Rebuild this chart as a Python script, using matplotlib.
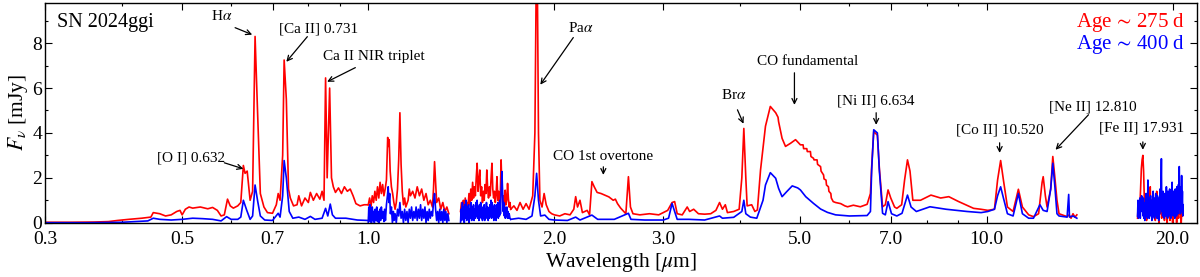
import numpy as np
import matplotlib
matplotlib.use('Agg')
import matplotlib.pyplot as plt

plt.rcParams['font.family'] = ['Liberation Serif', 'DejaVu Serif']
plt.rcParams['mathtext.fontset'] = 'stix'

# ── spectra (wavelength in micron, flux in mJy) ──────────────────────────────

# red: age ~ 275 d
red_opt_wl = [0.300, 0.33, 0.36, 0.38, 0.393, 0.41, 0.43, 0.445, 0.449, 0.46, 0.47, 0.48,
              0.49, 0.496, 0.50, 0.506, 0.513, 0.52, 0.535, 0.55, 0.56, 0.57, 0.578, 0.585,
              0.592, 0.598, 0.605, 0.615, 0.622, 0.628, 0.632, 0.637, 0.644, 0.650, 0.656,
              0.662, 0.669, 0.678, 0.687, 0.700, 0.71, 0.715, 0.72, 0.727, 0.731, 0.737,
              0.743, 0.748, 0.757, 0.767, 0.772, 0.780, 0.790, 0.800, 0.806, 0.815, 0.825,
              0.835, 0.842, 0.848, 0.853, 0.858, 0.866, 0.872, 0.878, 0.885, 0.895, 0.905,
              0.915, 0.925, 0.935, 0.945, 0.955, 0.97, 0.985, 1.0]
red_opt_fx = [0.02, 0.02, 0.03, 0.05, 0.10, 0.15, 0.2, 0.25, 0.45, 0.40, 0.30, 0.35,
              0.5, 0.55, 0.35, 0.6, 0.70, 0.65, 0.70, 0.62, 0.68, 0.55, 0.30, 0.35,
              1.05, 0.75, 0.65, 0.75, 0.9, 2.55, 2.2, 2.3, 1.0, 1.4, 8.3,
              5.0, 1.3, 0.7, 0.45, 0.42, 0.8, 1.3, 1.0, 3.0, 7.25, 5.5,
              1.5, 1.1, 0.75, 0.8, 1.2, 0.75, 1.1, 0.9, 1.35, 1.0, 1.3,
              1.05, 1.4, 1.0, 6.45, 2.0, 6.0, 2.0, 1.6, 1.35, 1.55, 1.3,
              1.6, 1.4, 1.5, 1.2, 0.85, 0.75, 0.8, 0.8]

red_j_wl = [1.00, 1.005, 1.01, 1.015, 1.02, 1.025, 1.03, 1.035, 1.04, 1.045, 1.05, 1.055,
            1.06, 1.065, 1.07, 1.075, 1.078, 1.081, 1.085, 1.09, 1.095, 1.10, 1.105, 1.11,
            1.115, 1.12, 1.125, 1.13, 1.135, 1.14, 1.145, 1.15, 1.16, 1.165, 1.17, 1.18,
            1.19, 1.20, 1.21, 1.22, 1.23, 1.24, 1.25, 1.26, 1.27, 1.275, 1.28, 1.285,
            1.29, 1.30, 1.31, 1.32, 1.33, 1.34, 1.35]
red_j_fx = [0.8, 1.1, 0.7, 1.2, 0.9, 1.4, 1.0, 1.6, 1.1, 1.8, 1.3, 1.7,
            1.2, 1.5, 1.9, 3.8, 3.4, 3.7, 2.3, 1.6, 1.3, 0.9, 0.6, 0.9,
            1.5, 2.8, 4.9, 2.6, 1.4, 0.8, 1.1, 0.7, 1.0, 1.5, 1.2, 1.4,
            1.1, 1.6, 1.2, 1.5, 1.0, 1.3, 0.8, 1.0, 0.7, 1.5, 2.72, 1.8,
            0.9, 1.1, 0.6, 0.9, 0.5, 0.7, 0.4]

red_h_wl = [1.41, 1.415, 1.42, 1.425, 1.43, 1.435, 1.44, 1.445, 1.45, 1.455, 1.46, 1.465,
            1.47, 1.475, 1.48, 1.485, 1.49, 1.495, 1.50, 1.505, 1.51, 1.515, 1.52, 1.525,
            1.53, 1.535, 1.54, 1.545, 1.55, 1.555, 1.56, 1.565, 1.57, 1.575, 1.58, 1.585,
            1.59, 1.595, 1.60, 1.605, 1.61, 1.615, 1.62, 1.625, 1.63, 1.635, 1.64, 1.645,
            1.65, 1.655, 1.66, 1.665, 1.67, 1.675, 1.68, 1.685, 1.69, 1.695, 1.70]
red_h_fx = [0.5, 0.9, 0.4, 1.0, 0.6, 1.1, 0.5, 0.9, 0.7, 1.3, 0.8, 1.5,
            1.0, 1.8, 1.1, 1.6, 1.2, 2.0, 2.65, 1.4, 1.9, 2.35, 1.2, 1.6,
            0.9, 1.4, 1.0, 1.7, 1.3, 2.35, 1.5, 1.1, 1.6, 1.2, 2.0, 2.65,
            1.5, 1.1, 1.4, 0.9, 1.3, 2.05, 1.0, 1.4, 0.8, 1.2, 2.8, 1.6,
            0.9, 1.2, 0.7, 1.45, 0.8, 1.0, 1.75, 1.1, 0.7, 0.9, 0.6]

red_ir_wl = [1.70, 1.72, 1.74, 1.76, 1.78, 1.80, 1.82, 1.845, 1.86, 1.868, 1.878, 1.885,
             1.895, 1.91, 1.925, 1.94, 1.96, 1.98, 2.00, 2.04, 2.08, 2.12, 2.15, 2.165,
             2.18, 2.20, 2.22, 2.26, 2.28, 2.30, 2.32, 2.345, 2.38, 2.45, 2.49, 2.51,
             2.53, 2.56, 2.61, 2.635, 2.655, 2.68, 2.75, 2.85, 2.95, 3.0, 3.05, 3.1,
             3.13, 3.16, 3.22, 3.28, 3.31, 3.36, 3.42, 3.5, 3.58, 3.65, 3.7, 3.74,
             3.78, 3.81, 3.9, 3.98, 4.02, 4.05, 4.08, 4.1, 4.17, 4.22, 4.26, 4.31,
             4.39, 4.47, 4.56, 4.6, 4.61, 4.67, 4.73, 4.82, 4.91, 4.95, 5.0, 5.05,
             5.06, 5.12, 5.13, 5.19, 5.2, 5.25, 5.26, 5.32, 5.33, 5.39, 5.40, 5.45,
             5.46, 5.5, 5.51, 5.55, 5.56, 5.6, 5.61, 5.65, 5.7, 5.81, 5.9, 5.96,
             6.09, 6.25, 6.41, 6.49, 6.52, 6.57, 6.66, 6.71, 6.79, 6.86, 6.93, 7.0,
             7.1, 7.16, 7.29, 7.37, 7.45, 7.52, 7.6, 7.82, 8.13, 8.43, 8.69, 9.0,
             9.34, 9.53, 9.79, 10.05, 10.3, 10.42, 10.54, 10.65, 10.81, 11.04, 11.26, 11.43,
             11.7, 11.91, 12.14, 12.3, 12.35, 12.45, 12.53, 12.7, 12.8, 12.9, 13.0, 13.1,
             13.5, 13.6, 13.7, 13.8, 13.9, 14.0]
red_ir_fx = [0.6, 0.75, 0.55, 0.9, 0.6, 0.85, 0.6, 1.2, 4.0, 9.9, 9.9, 4.0,
             1.0, 0.7, 1.3, 0.8, 0.5, 0.4, 0.35, 0.3, 0.4, 0.35, 0.6, 1.16,
             0.7, 1.0, 0.45, 0.55, 0.35, 1.83, 1.6, 1.35, 1.3, 1.15, 1.0, 1.05,
             0.85, 0.65, 0.4, 2.05, 0.7, 0.4, 0.35, 0.4, 0.35, 0.45, 0.55, 0.9,
             0.94, 0.4, 0.35, 0.7, 0.5, 0.6, 0.4, 0.38, 0.4, 0.55, 0.9, 0.6,
             0.8, 0.45, 0.5, 0.6, 2.0, 4.2, 2.0, 0.75, 0.8, 0.5, 0.57, 2.35,
             4.3, 5.18, 4.9, 4.7, 4.5, 3.76, 3.4, 3.54, 3.7, 3.6, 3.47, 3.47,
             3.3, 3.3, 3.17, 3.17, 2.95, 2.87, 2.8, 2.8, 2.6, 2.5, 2.3, 2.13,
             1.95, 1.9, 1.68, 1.6, 1.4, 1.3, 1.1, 0.94, 0.9, 0.85, 0.75, 0.71,
             0.78, 0.71, 0.82, 1.3, 2.5, 4.06, 3.9, 2.4, 0.71, 0.8, 1.46, 1.1,
             0.7, 0.64, 0.8, 1.9, 2.8, 2.3, 1.0, 1.0, 1.23, 1.1, 1.16, 0.95,
             0.75, 0.64, 0.6, 0.55, 0.6, 1.9, 2.77, 1.9, 0.7, 0.5, 1.49, 0.7,
             0.35, 0.27, 0.4, 1.8, 2.05, 1.2, 0.7, 1.5, 2.95, 2.0, 1.0, 0.4,
             0.27, 0.35, 0.2, 0.4, 0.25, 0.35]

red_mir_wl = [17.55, 17.6, 17.65, 17.7, 17.75, 17.8, 17.85, 17.9, 17.95, 18.0, 18.05, 18.1,
              18.15, 18.2, 18.25, 18.3, 18.35, 18.4, 18.45, 18.5, 18.55, 18.6, 18.65, 18.7,
              18.75, 18.8, 18.85, 18.9, 18.95, 19.0, 19.05, 19.1, 19.15, 19.2, 19.25, 19.3,
              19.35, 19.4, 19.45, 19.5, 19.55, 19.6, 19.65, 19.7, 19.75, 19.8, 19.85, 19.9,
              19.95, 20.0, 20.05, 20.1, 20.15, 20.2, 20.25, 20.3, 20.35, 20.4, 20.45, 20.5,
              20.55, 20.6, 20.65, 20.7, 20.75, 20.8]
red_mir_fx = [0.2, 0.9, 0.3, 0.7, 1.5, 2.4, 2.8, 3.0, 2.3, 1.0, 0.4, 0.9,
              0.1, 0.6, 1.2, 0.3, 0.8, 1.6, 0.4, 1.0, 0.2, 1.3, 0.5, 0.9,
              0.1, 0.7, 1.4, 0.3, 0.8, 0.0, 1.1, 0.4, 0.9, 0.2, 1.3, 0.5,
              0.8, 0.1, 1.0, 0.3, 0.9, 0.0, 1.2, 0.4, 0.7, 0.1, 1.1, 0.5,
              0.9, 0.0, 1.0, 0.2, 0.8, 0.3, 1.3, 0.0, 1.5, 0.6, 0.2, 1.2,
              0.4, 0.9, 0.0, 0.6, 0.3, 0.5]

# blue: age ~ 400 d
blue_opt_wl = [0.30, 0.35, 0.40, 0.44, 0.449, 0.46, 0.48, 0.50, 0.52, 0.54, 0.56, 0.578,
               0.59, 0.60, 0.615, 0.622, 0.628, 0.636, 0.644, 0.650, 0.656, 0.662, 0.669, 0.68,
               0.70, 0.715, 0.72, 0.727, 0.731, 0.737, 0.745, 0.755, 0.772, 0.79, 0.806, 0.82,
               0.842, 0.853, 0.86, 0.868, 0.875, 0.885, 0.92, 0.96, 1.0]
blue_opt_fx = [0.0, 0.0, 0.02, 0.08, 0.2, 0.15, 0.12, 0.15, 0.2, 0.18, 0.15, 0.08,
               0.27, 0.15, 0.15, 0.25, 1.0, 0.55, 0.15, 0.3, 1.68, 1.0, 0.3, 0.12,
               0.1, 0.42, 0.25, 1.2, 2.77, 2.0, 0.5, 0.2, 0.25, 0.15, 0.28, 0.15,
               0.2, 0.64, 0.3, 0.83, 0.35, 0.2, 0.2, 0.12, 0.1]

blue_j_wl = [1.000, 1.002, 1.004, 1.006, 1.008, 1.01, 1.012, 1.015, 1.018, 1.02, 1.023, 1.026,
             1.029, 1.032, 1.035, 1.038, 1.04, 1.044, 1.047, 1.05, 1.053, 1.056, 1.06, 1.063,
             1.066, 1.07, 1.074, 1.077, 1.08, 1.083, 1.086, 1.09, 1.094, 1.098, 1.10, 1.105,
             1.11, 1.115, 1.12, 1.125, 1.13, 1.135, 1.14, 1.145, 1.15, 1.155, 1.16, 1.165,
             1.17, 1.175, 1.18, 1.185, 1.19, 1.195, 1.20, 1.205, 1.21, 1.215, 1.22, 1.225,
             1.23, 1.235, 1.24, 1.245, 1.25, 1.255, 1.26, 1.265, 1.27, 1.275, 1.28, 1.285,
             1.29, 1.295, 1.30, 1.305, 1.31, 1.315, 1.32, 1.325, 1.33, 1.335, 1.34, 1.345,
             1.35]
blue_j_fx = [0.0, 0.7, 0.1, 0.8, 0.05, 0.6, 0.0, 0.7, 0.1, 0.5, 0.0, 0.6,
             0.1, 0.7, 0.05, 0.5, 0.0, 0.6, 0.1, 0.7, 0.2, 0.5, 0.05, 0.6,
             0.1, 0.8, 1.2, 1.6, 0.9, 1.3, 0.4, 0.7, 0.0, 0.5, 0.1, 0.4,
             0.0, 0.6, 0.3, 0.9, 0.2, 0.5, 0.0, 0.6, 0.1, 0.5, 0.0, 0.6,
             0.2, 0.7, 0.1, 0.5, 0.2, 0.7, 0.1, 0.6, 0.2, 0.8, 0.1, 0.6,
             0.2, 0.7, 0.0, 0.5, 0.1, 0.6, 0.2, 0.5, 0.3, 0.9, 1.3, 0.6,
             0.1, 0.5, 0.0, 0.6, 0.1, 0.5, 0.0, 0.6, 0.1, 0.5, 0.0, 0.4,
             0.1]

blue_h_wl = [1.41, 1.413, 1.416, 1.42, 1.423, 1.426, 1.43, 1.433, 1.436, 1.44, 1.443, 1.446,
             1.45, 1.453, 1.456, 1.46, 1.463, 1.466, 1.47, 1.473, 1.476, 1.48, 1.483, 1.486,
             1.49, 1.493, 1.496, 1.50, 1.503, 1.506, 1.51, 1.513, 1.516, 1.52, 1.523, 1.526,
             1.53, 1.533, 1.536, 1.54, 1.543, 1.546, 1.55, 1.553, 1.556, 1.56, 1.563, 1.566,
             1.57, 1.573, 1.576, 1.58, 1.583, 1.586, 1.59, 1.593, 1.596, 1.60, 1.603, 1.606,
             1.61, 1.613, 1.616, 1.62, 1.623, 1.626, 1.63, 1.633, 1.636, 1.64, 1.645, 1.65,
             1.653, 1.656, 1.66, 1.663, 1.666, 1.67, 1.673, 1.676, 1.68, 1.683, 1.686, 1.69,
             1.695, 1.70]
blue_h_fx = [0.0, 0.6, 0.1, 0.9, 0.2, 0.7, 0.0, 0.8, 0.2, 1.0, 0.1, 0.7,
             0.2, 0.8, 0.0, 0.6, 0.2, 0.9, 0.1, 0.7, 0.3, 0.8, 0.1, 0.6,
             0.2, 0.9, 0.3, 1.0, 0.2, 0.7, 0.1, 0.8, 0.3, 0.9, 0.2, 0.6,
             0.1, 0.7, 0.2, 0.8, 0.1, 0.6, 0.3, 0.9, 0.2, 0.7, 0.1, 0.6,
             0.2, 0.8, 0.3, 1.0, 0.2, 0.9, 0.3, 0.7, 0.1, 0.8, 0.2, 0.6,
             0.1, 0.8, 0.3, 0.9, 0.2, 0.7, 0.3, 1.0, 0.4, 1.4, 2.28, 1.2,
             0.5, 0.9, 0.3, 0.7, 0.2, 0.6, 0.3, 0.7, 0.2, 0.5, 0.2, 0.4,
             0.2, 0.15]

blue_ir_wl = [1.70, 1.75, 1.80, 1.84, 1.86, 1.872, 1.885, 1.9, 1.93, 1.96, 2.0, 2.1,
              2.165, 2.2, 2.3, 2.35, 2.5, 2.635, 2.66, 2.8, 3.0, 3.06, 3.1, 3.13,
              3.16, 3.3, 3.5, 3.7, 3.74, 3.9, 4.02, 4.05, 4.08, 4.15, 4.25, 4.35,
              4.39, 4.47, 4.56, 4.61, 4.67, 4.75, 4.85, 4.95, 5.0, 5.1, 5.25, 5.39,
              5.53, 5.7, 6.0, 6.41, 6.49, 6.52, 6.57, 6.66, 6.71, 6.79, 6.86, 6.93,
              7.02, 7.16, 7.3, 7.45, 7.55, 7.7, 8.1, 8.6, 9.3, 9.8, 10.05, 10.3,
              10.42, 10.54, 10.65, 10.81, 11.04, 11.26, 11.43, 11.7, 11.91, 12.2, 12.35, 12.53,
              12.7, 12.8, 12.9, 13.0, 13.1, 13.5, 13.58, 13.62, 13.8, 14.0]
blue_ir_fx = [0.15, 0.2, 0.15, 0.3, 1.2, 2.2, 1.0, 0.3, 0.34, 0.15, 0.12, 0.1,
              0.25, 0.12, 0.34, 0.15, 0.15, 0.42, 0.15, 0.12, 0.12, 0.2, 0.86, 0.5,
              0.15, 0.15, 0.12, 0.3, 0.2, 0.24, 0.5, 1.0, 0.4, 0.25, 0.2, 1.0,
              1.68, 2.23, 1.98, 1.53, 1.16, 1.38, 1.64, 1.55, 1.46, 1.16, 0.86, 0.61,
              0.46, 0.35, 0.3, 0.32, 0.5, 2.35, 4.14, 4.0, 2.3, 0.42, 0.35, 0.94,
              0.4, 0.3, 0.42, 1.23, 0.7, 0.5, 0.71, 0.6, 0.5, 0.45, 0.5, 0.6,
              1.2, 1.6, 1.1, 0.4, 0.3, 1.3, 0.4, 0.2, 0.2, 0.8, 0.55, 0.5,
              1.5, 2.65, 1.6, 0.4, 0.3, 0.25, 1.26, 0.25, 0.3, 0.2]

blue_mir_wl = [17.55, 17.58, 17.61, 17.64, 17.67, 17.7, 17.73, 17.76, 17.79, 17.82, 17.85, 17.88,
               17.91, 17.94, 17.97, 18.0, 18.03, 18.06, 18.09, 18.12, 18.15, 18.18, 18.21, 18.24,
               18.27, 18.3, 18.33, 18.36, 18.39, 18.42, 18.45, 18.48, 18.51, 18.54, 18.57, 18.6,
               18.63, 18.66, 18.69, 18.72, 18.75, 18.78, 18.81, 18.84, 18.87, 18.9, 18.93, 18.96,
               18.99, 19.02, 19.05, 19.08, 19.11, 19.14, 19.18, 19.21, 19.24, 19.27, 19.3, 19.33,
               19.36, 19.39, 19.42, 19.45, 19.48, 19.51, 19.54, 19.57, 19.6, 19.63, 19.66, 19.69,
               19.72, 19.75, 19.78, 19.81, 19.84, 19.87, 19.9, 19.93, 19.96, 19.99, 20.02, 20.05,
               20.08, 20.11, 20.14, 20.17, 20.2, 20.23, 20.26, 20.29, 20.32, 20.35, 20.38, 20.41,
               20.44, 20.47, 20.5, 20.53, 20.56, 20.59, 20.62, 20.65, 20.68, 20.71, 20.74, 20.77,
               20.8]
blue_mir_fx = [0.3, 1.0, 0.2, 0.8, 0.4, 1.1, 0.2, 0.9, 0.5, 1.2, 0.6, 1.0,
               0.3, 1.1, 0.2, 0.8, 0.1, 0.9, 0.3, 1.3, 0.4, 1.0, 0.2, 1.9,
               0.5, 1.1, 0.2, 0.9, 0.4, 1.2, 0.3, 0.8, 0.1, 1.0, 0.5, 1.4,
               0.3, 0.9, 0.2, 1.1, 0.5, 1.3, 0.3, 1.0, 0.2, 1.2, 0.6, 0.9,
               0.1, 1.1, 0.4, 1.5, 0.6, 1.0, 2.85, 0.5, 1.2, 0.3, 1.4, 0.7,
               1.0, 0.2, 1.3, 0.5, 1.1, 0.3, 1.6, 0.6, 1.2, 0.2, 1.4, 0.5,
               1.0, 0.3, 1.5, 0.6, 1.1, 0.2, 1.3, 0.5, 1.8, 0.4, 1.2, 0.3,
               1.4, 0.6, 1.0, 0.2, 1.5, 0.7, 1.1, 0.3, 1.6, 0.5, 1.2, 0.4,
               1.7, 0.6, 2.5, 0.8, 1.3, 0.4, 1.6, 0.5, 2.1, 0.7, 1.4, 0.3,
               0.8]

red_segments = [(red_opt_wl, red_opt_fx), (red_j_wl, red_j_fx), (red_h_wl, red_h_fx),
                (red_ir_wl, red_ir_fx), (red_mir_wl, red_mir_fx)]
blue_segments = [(blue_opt_wl, blue_opt_fx), (blue_j_wl, blue_j_fx), (blue_h_wl, blue_h_fx),
                 (blue_ir_wl, blue_ir_fx), (blue_mir_wl, blue_mir_fx)]

xticks = [0.3, 0.5, 0.7, 1.0, 2.0, 3.0, 5.0, 7.0, 10.0, 20.0]
xminor = [0.4, 0.6, 0.8, 0.9, 4.0, 6.0, 8.0, 9.0]

# ── plot ──────────────────────────────────────────────────────────────────────

fig = plt.figure(figsize=(12, 2.77), dpi=100)
ax = fig.add_axes([0.0375, 0.196, 0.96, 0.794])

for wl, fx in red_segments:
    ax.plot(wl, fx, color='red', lw=1.2)
for wl, fx in blue_segments:
    ax.plot(wl, fx, color='blue', lw=1.2)

ax.set_xscale('log')
ax.set_xlim(0.3, 21.9)
ax.set_ylim(0, 9.8)
ax.set_xticks(xticks)
ax.set_xticklabels([f'{t:.1f}' for t in xticks])
ax.set_xticks(xminor, minor=True)
ax.set_xticklabels([], minor=True)
ax.set_yticks([0, 2, 4, 6, 8])
ax.set_yticks(range(0, 10), minor=True)
ax.tick_params(which='both', direction='in', top=True, right=True, labelsize=14)
ax.tick_params(axis='x', which='major', pad=6)
ax.tick_params(axis='y', which='major', pad=2)
ax.tick_params(which='major', length=5, width=0.8)
ax.tick_params(which='minor', length=2.5, width=0.8)
for s in ax.spines.values():
    s.set_linewidth(1.0)

ax.set_xlabel(r'Wavelength [$\mu$m]', fontsize=15.5, labelpad=2)
ax.set_ylabel(r'$F_{\nu}$ [mJy]', fontsize=15.5, labelpad=2)

ax.text(0.01, 0.912, 'SN 2024ggi', transform=ax.transAxes, fontsize=14.5, va='center')
ax.text(0.9896, 0.912, r'Age$\,\sim\,$275 d', transform=ax.transAxes, fontsize=15,
        color='red', ha='right', va='center')
ax.text(0.9896, 0.808, r'Age$\,\sim\,$400 d', transform=ax.transAxes, fontsize=15,
        color='blue', ha='right', va='center')

# line labels: (text, text position, arrow tail, arrow head)
labels = [
    ('[O I] 0.632',      (0.517, 2.89), (0.585, 2.67), (0.628, 2.40)),
    (r'H$\alpha$',       (0.580, 9.23), (0.609, 8.69), (0.649, 8.38)),
    ('[Ca II] 0.731',    (0.830, 8.65), (0.797, 8.29), (0.737, 7.17)),
    ('Ca II NIR triplet', (1.019, 7.40), (0.953, 6.91), (0.858, 6.28)),
    (r'Pa$\alpha$',      (2.203, 8.69), (2.146, 8.25), (1.898, 6.15)),
    ('CO 1st overtone',  (2.400, 2.93), (2.400, 2.49), (2.400, 2.13)),
    (r'Br$\alpha$',      (3.896, 5.70), (3.955, 5.03), (4.045, 4.41)),
    ('CO fundamental',   (5.13, 7.17),  (4.89, 6.68),  (4.89, 5.25)),
    ('[Ni II] 6.634',    (6.63, 5.43),  (6.63, 4.90),  (6.63, 4.36)),
    ('[Co II] 10.520',   (10.50, 4.14), (10.50, 3.56), (10.50, 3.11)),
    ('[Ne II] 12.810',   (14.84, 5.17), (14.62, 4.81), (12.93, 3.25)),
    ('[Fe II] 17.931',   (17.82, 4.23), (17.90, 3.60), (17.90, 3.25)),
]
for txt, tpos, tail, head in labels:
    ax.text(tpos[0], tpos[1], txt, fontsize=11, ha='center', va='center')
    ax.annotate('', xy=head, xytext=tail,
                arrowprops=dict(arrowstyle='->', color='black', lw=0.9,
                                shrinkA=0, shrinkB=0, mutation_scale=9))

fig.savefig('out.png', dpi=100)
